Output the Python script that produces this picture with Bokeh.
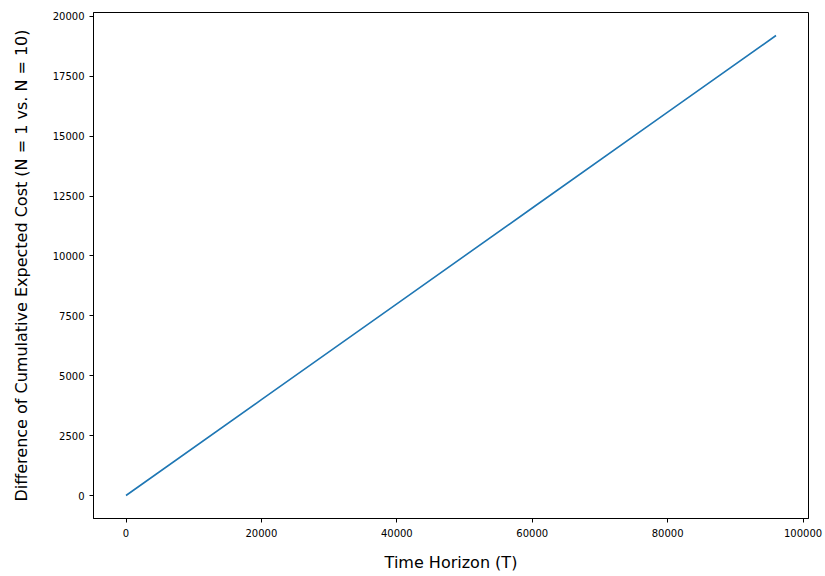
from bokeh.plotting import figure
from bokeh.models import Range1d, FixedTicker, NumeralTickFormatter
from bokeh.embed import file_html
from bokeh.resources import INLINE

time_horizon = [0, 20000, 40000, 60000, 80000, 96000]
cost_difference = [0, 4000, 8000, 12000, 16000, 19200]
x_ticks = [0, 20000, 40000, 60000, 80000, 100000]
y_ticks = [0, 2500, 5000, 7500, 10000, 12500, 15000, 17500, 20000]

p = figure(width=825, height=576, output_backend="svg", toolbar_location=None,
           x_range=Range1d(-4800, 100800), y_range=Range1d(-960, 20160),
           min_border_left=93, min_border_right=17, min_border_top=12, min_border_bottom=58)

p.line(time_horizon, cost_difference, line_color="#1f77b4", line_width=1.6)

p.xgrid.visible = False
p.ygrid.visible = False
p.outline_line_color = "black"
p.outline_line_width = 1
p.outline_line_alpha = 1
p.background_fill_color = "white"
p.border_fill_color = "white"

p.xaxis.ticker = FixedTicker(ticks=x_ticks)
p.yaxis.ticker = FixedTicker(ticks=y_ticks)
p.xaxis.formatter = NumeralTickFormatter(format="0")
p.yaxis.formatter = NumeralTickFormatter(format="0")

for ax in (p.xaxis[0], p.yaxis[0]):
    ax.major_tick_in = 0
    ax.major_tick_out = 4
    ax.minor_tick_in = 0
    ax.minor_tick_out = 0
    ax.axis_line_color = "black"
    ax.major_tick_line_color = "black"
    ax.major_label_text_font = "DejaVu Sans"
    ax.major_label_text_font_size = "10px"
    ax.major_label_text_color = "black"
    ax.axis_label_text_font = "DejaVu Sans"
    ax.axis_label_text_font_size = "16px"
    ax.axis_label_text_font_style = "normal"
    ax.axis_label_text_color = "black"

p.xaxis.axis_label = "Time Horizon (T)"
p.yaxis.axis_label = "Difference of Cumulative Expected Cost (N = 1 vs. N = 10)"
p.xaxis.major_label_standoff = 6
p.yaxis.major_label_standoff = 5
p.xaxis.axis_label_standoff = 13
p.yaxis.axis_label_standoff = 19

open("out.html", "w").write(file_html(p, INLINE))
